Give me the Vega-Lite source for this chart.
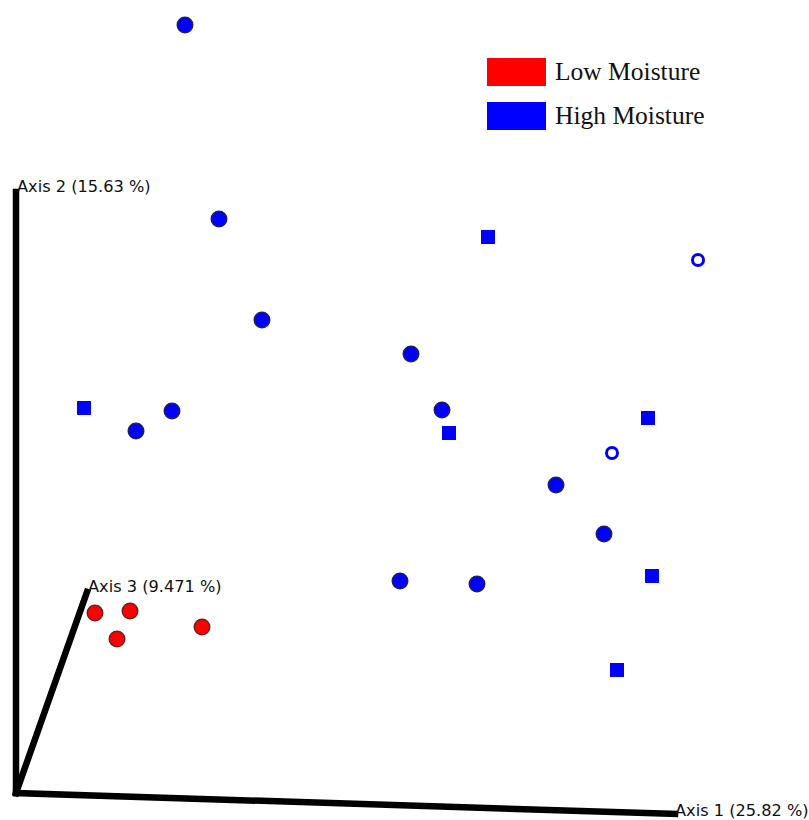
{
  "$schema": "https://vega.github.io/schema/vega-lite/v6.json",
  "width": 809,
  "height": 820,
  "padding": 0,
  "autosize": {"type": "fit", "contains": "padding"},
  "background": "white",
  "config": {
    "view": {"stroke": null}
  },
  "datasets": {
    "axes": [
      {"axis": "Axis 1 (25.82 %)", "x": 16, "y": 793, "x2": 675, "y2": 814, "lx": 675, "ly": 811},
      {"axis": "Axis 2 (15.63 %)", "x": 16, "y": 793, "x2": 16, "y2": 192, "lx": 17, "ly": 187},
      {"axis": "Axis 3 (9.471 %)", "x": 16, "y": 793, "x2": 87, "y2": 592, "lx": 88, "ly": 587}
    ],
    "samples": [
      {"x": 185, "y": 25, "moisture": "High Moisture", "marker": "sphere"},
      {"x": 219, "y": 219, "moisture": "High Moisture", "marker": "sphere"},
      {"x": 262, "y": 320, "moisture": "High Moisture", "marker": "sphere"},
      {"x": 411, "y": 354, "moisture": "High Moisture", "marker": "sphere"},
      {"x": 442, "y": 410, "moisture": "High Moisture", "marker": "sphere"},
      {"x": 172, "y": 411, "moisture": "High Moisture", "marker": "sphere"},
      {"x": 136, "y": 431, "moisture": "High Moisture", "marker": "sphere"},
      {"x": 556, "y": 485, "moisture": "High Moisture", "marker": "sphere"},
      {"x": 604, "y": 534, "moisture": "High Moisture", "marker": "sphere"},
      {"x": 400, "y": 581, "moisture": "High Moisture", "marker": "sphere"},
      {"x": 477, "y": 584, "moisture": "High Moisture", "marker": "sphere"},
      {"x": 95, "y": 613, "moisture": "Low Moisture", "marker": "sphere"},
      {"x": 130, "y": 611, "moisture": "Low Moisture", "marker": "sphere"},
      {"x": 117, "y": 639, "moisture": "Low Moisture", "marker": "sphere"},
      {"x": 202, "y": 627, "moisture": "Low Moisture", "marker": "sphere"},
      {"x": 488, "y": 237, "moisture": "High Moisture", "marker": "square"},
      {"x": 84, "y": 408, "moisture": "High Moisture", "marker": "square"},
      {"x": 449, "y": 433, "moisture": "High Moisture", "marker": "square"},
      {"x": 648, "y": 418, "moisture": "High Moisture", "marker": "square"},
      {"x": 652, "y": 576, "moisture": "High Moisture", "marker": "square"},
      {"x": 617, "y": 670, "moisture": "High Moisture", "marker": "square"},
      {"x": 698, "y": 260, "moisture": "High Moisture", "marker": "ring"},
      {"x": 612, "y": 453, "moisture": "High Moisture", "marker": "ring"}
    ]
  },
  "layer": [
    {
      "data": {"name": "axes"},
      "mark": {"type": "rule", "color": "black", "strokeWidth": 6.5, "strokeCap": "square"},
      "encoding": {
        "x": {"field": "x", "type": "quantitative", "scale": {"domain": [0, 809]}, "axis": null},
        "y": {"field": "y", "type": "quantitative", "scale": {"domain": [0, 820], "reverse": true}, "axis": null},
        "x2": {"field": "x2"},
        "y2": {"field": "y2"}
      }
    },
    {
      "data": {"name": "axes"},
      "mark": {"type": "text", "align": "left", "baseline": "middle", "font": "DejaVu Sans", "fontSize": 16.2, "color": "#111111"},
      "encoding": {
        "x": {"field": "lx", "type": "quantitative", "scale": {"domain": [0, 809]}, "axis": null},
        "y": {"field": "ly", "type": "quantitative", "scale": {"domain": [0, 820], "reverse": true}, "axis": null},
        "text": {"field": "axis"}
      }
    },
    {
      "data": {"name": "samples"},
      "transform": [{"filter": "datum.marker === 'sphere'"}],
      "mark": {"type": "point", "shape": "circle", "filled": true, "size": 240, "opacity": 1, "strokeWidth": 1.5},
      "encoding": {
        "x": {"field": "x", "type": "quantitative", "scale": {"domain": [0, 809]}, "axis": null},
        "y": {"field": "y", "type": "quantitative", "scale": {"domain": [0, 820], "reverse": true}, "axis": null},
        "color": {
          "field": "moisture", "type": "nominal",
          "scale": {"domain": ["Low Moisture", "High Moisture"], "range": ["#ff0000", "#0000ff"]},
          "legend": {
            "orient": "none",
            "legendX": 487,
            "legendY": 42.5,
            "title": null,
            "symbolType": "M-1,-0.475H1V0.475H-1Z",
            "symbolSize": 3481,
            "symbolStrokeWidth": 0,
            "symbolOpacity": 1,
            "labelFont": "Liberation Serif",
            "labelFontSize": 25.5,
            "labelColor": "#111111",
            "labelOffset": 9,
            "rowPadding": 0,
            "padding": 0
          }
        },
        "stroke": {"field": "moisture", "type": "nominal", "scale": {"domain": ["Low Moisture", "High Moisture"], "range": ["#6e2020", "#20205e"]}, "legend": null}
      }
    },
    {
      "data": {"name": "samples"},
      "transform": [{"filter": "datum.marker === 'square'"}],
      "mark": {"type": "point", "shape": "square", "filled": true, "size": 196, "opacity": 1, "strokeWidth": 0},
      "encoding": {
        "x": {"field": "x", "type": "quantitative", "scale": {"domain": [0, 809]}, "axis": null},
        "y": {"field": "y", "type": "quantitative", "scale": {"domain": [0, 820], "reverse": true}, "axis": null},
        "color": {"field": "moisture", "type": "nominal", "scale": {"domain": ["Low Moisture", "High Moisture"], "range": ["#ff0000", "#0000ff"]}}
      }
    },
    {
      "data": {"name": "samples"},
      "transform": [{"filter": "datum.marker === 'ring'"}],
      "mark": {"type": "point", "shape": "circle", "filled": false, "size": 121, "opacity": 1, "strokeWidth": 3},
      "encoding": {
        "x": {"field": "x", "type": "quantitative", "scale": {"domain": [0, 809]}, "axis": null},
        "y": {"field": "y", "type": "quantitative", "scale": {"domain": [0, 820], "reverse": true}, "axis": null},
        "color": {"field": "moisture", "type": "nominal", "scale": {"domain": ["Low Moisture", "High Moisture"], "range": ["#ff0000", "#0000ff"]}}
      }
    }
  ]
}
